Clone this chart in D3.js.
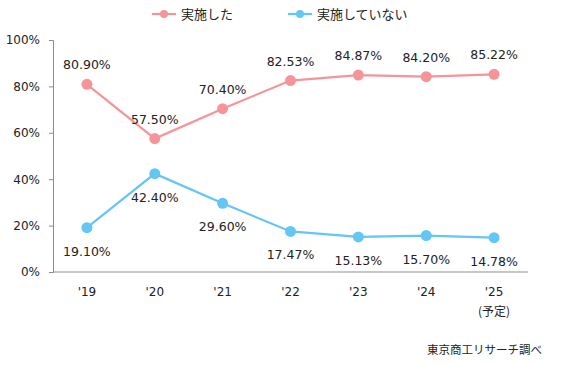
<!DOCTYPE html>
<html><head><meta charset="utf-8">
<script src="https://cdn.jsdelivr.net/npm/d3@7"></script>
<style>body{margin:0;background:#fff}</style>
</head><body>
<svg id="c" width="570" height="365"></svg>
<script>
const categories = ["'19","'20","'21","'22","'23","'24","'25"];
const catSub = ["","","","","","","(予定)"];
const implemented = [80.90, 57.50, 70.40, 82.53, 84.87, 84.20, 85.22];
const notImplemented = [19.10, 42.40, 29.60, 17.47, 15.13, 15.70, 14.78];
const yTicks = [0, 20, 40, 60, 80, 100];
const seriesNames = ["実施した", "実施していない"];
const source = "東京商工リサーチ調べ";

const pink = "#F5959A", blue = "#63C6F4";
const svg = d3.select("#c");
const x = d3.scaleBand().domain(categories).range([53, 528]);
const y = d3.scaleLinear().domain([0, 100]).range([272, 40]);
const numFont = "'DejaVu Sans', Verdana, sans-serif";
const jpFont = "'Noto Sans CJK JP', sans-serif";

// y axis
const ya = svg.append("g").attr("transform","translate(53,0)")
  .call(d3.axisLeft(y).tickValues(yTicks).tickSize(4).tickPadding(9).tickFormat(d => d + "%"));
ya.select(".domain").attr("stroke","#8c8c8c");
ya.selectAll(".tick line").attr("stroke","#8c8c8c");
ya.selectAll("text").attr("font-family", numFont).attr("font-size", 12).attr("fill","#222");

// x axis baseline
svg.append("line").attr("x1",53).attr("x2",528).attr("y1",y(0)).attr("y2",y(0)).attr("stroke","#8c8c8c");

// x labels
categories.forEach((c,i) => {
  const cx = x(c) + x.bandwidth()/2;
  svg.append("text").attr("x",cx).attr("y",296).attr("text-anchor","middle")
    .attr("font-family",numFont).attr("font-size",12).attr("fill","#222").text(c);
  if (catSub[i]) svg.append("text").attr("x",cx).attr("y",316).attr("text-anchor","middle")
    .attr("font-family",jpFont).attr("font-size",12).attr("fill","#222").text(catSub[i]);
});

const line = d3.line().x((d,i) => x(categories[i]) + x.bandwidth()/2).y(d => y(d));
function drawSeries(vals, color, dy) {
  svg.append("path").datum(vals).attr("d", line).attr("fill","none").attr("stroke",color).attr("stroke-width",2.2);
  svg.selectAll(null).data(vals).enter().append("circle")
    .attr("cx",(d,i) => x(categories[i]) + x.bandwidth()/2).attr("cy", d => y(d)).attr("r",5.5).attr("fill",color);
  svg.selectAll(null).data(vals).enter().append("text")
    .attr("x",(d,i) => x(categories[i]) + x.bandwidth()/2).attr("y", d => y(d) + dy)
    .attr("text-anchor","middle").attr("font-family",numFont).attr("font-size",12.5).attr("fill","#222")
    .text(d => d.toFixed(2) + "%");
}
drawSeries(implemented, pink, -15);
drawSeries(notImplemented, blue, 28);

// legend
const leg = [[152, pink, seriesNames[0]], [288, blue, seriesNames[1]]];
leg.forEach(([lx, col, name]) => {
  svg.append("line").attr("x1",lx).attr("x2",lx+24).attr("y1",14).attr("y2",14).attr("stroke",col).attr("stroke-width",2.2);
  svg.append("circle").attr("cx",lx+12).attr("cy",14).attr("r",4).attr("fill",col);
  svg.append("text").attr("x",lx+29).attr("y",19).attr("font-family",jpFont).attr("font-size",13).attr("fill","#222").text(name);
});

svg.append("text").attr("x",542).attr("y",354).attr("text-anchor","end")
  .attr("font-family",jpFont).attr("font-size",11.5).attr("fill","#222").text(source);
</script>
</body></html>
